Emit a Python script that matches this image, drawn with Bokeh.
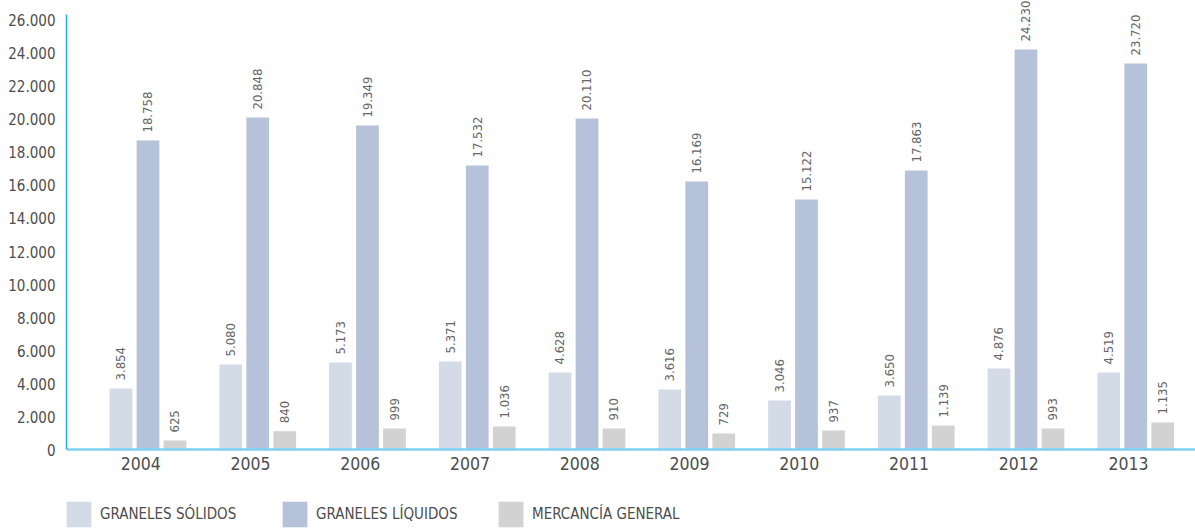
import math
from bokeh.plotting import figure
from bokeh.models import (ColumnDataSource, Range1d, FixedTicker, LabelSet,
                          Legend, LegendItem)
from bokeh.transform import dodge
from bokeh.core.properties import value
from bokeh.embed import file_html
from bokeh.resources import INLINE

# ---------------- data ----------------
years = ["2004", "2005", "2006", "2007", "2008", "2009", "2010", "2011", "2012", "2013"]

# bar heights as drawn in the reference
solidos = [3719, 5170, 5291, 5351, 4686, 3658, 2993, 3295, 4928, 4686]
liquidos = [18714, 20105, 19622, 17203, 20045, 16235, 15147, 16900, 24217, 23371]
mercancia = [574, 1137, 1300, 1421, 1300, 998, 1179, 1481, 1300, 1663]

# value labels printed above the bars
solidos_lbl = ["3.854", "5.080", "5.173", "5.371", "4.628", "3.616", "3.046", "3.650", "4.876", "4.519"]
liquidos_lbl = ["18.758", "20.848", "19.349", "17.532", "20.110", "16.169", "15.122", "17.863", "24.230", "23.720"]
mercancia_lbl = ["625", "840", "999", "1.036", "910", "729", "937", "1.139", "993", "1.135"]

series_names = ["GRANELES SÓLIDOS", "GRANELES LÍQUIDOS", "MERCANCÍA GENERAL"]

y_ticks = [0, 2000, 4000, 6000, 8000, 10000, 12000, 14000, 16000, 18000, 20000, 22000, 24000, 26000]
y_tick_labels = ["0", "2.000", "4.000", "6.000", "8.000", "10.000", "12.000", "14.000",
                 "16.000", "18.000", "20.000", "22.000", "24.000", "26.000"]

# ---------------- style ----------------
FONT = "DejaVu Sans Condensed"
C_SOL = "#d3dbe7"
C_LIQ = "#b6c2da"
C_MER = "#d2d2d2"
TXT = "#4d4d4d"

idx = list(range(len(years)))
src = ColumnDataSource(dict(
    x=[i + 0.066 for i in idx],
    sol=solidos, liq=liquidos, mer=mercancia,
    sol_lbl=solidos_lbl, liq_lbl=liquidos_lbl, mer_lbl=mercancia_lbl,
))

p = figure(width=1195, height=530, output_backend="svg", toolbar_location=None,
           x_range=Range1d(-0.6765, 9.6105), y_range=Range1d(-4868, 27180),
           min_border_left=66, min_border_right=0, min_border_top=0,
           min_border_bottom=0)

OFF = 0.246
W = 0.207
r_sol = p.vbar(x=dodge("x", -OFF, range=p.x_range), top="sol", width=W, source=src,
               fill_color=C_SOL, line_color=None)
r_liq = p.vbar(x=dodge("x", 0.0, range=p.x_range), top="liq", width=W, source=src,
               fill_color=C_LIQ, line_color=None)
r_mer = p.vbar(x=dodge("x", OFF, range=p.x_range), top="mer", width=W, source=src,
               fill_color=C_MER, line_color=None)

for off, col, lbl in [(-OFF, "sol", "sol_lbl"), (0.0, "liq", "liq_lbl"), (OFF, "mer", "mer_lbl")]:
    ls = LabelSet(x=dodge("x", off, range=p.x_range), y=col, text=lbl, source=src,
                  angle=math.pi / 2, text_align="left", text_baseline="middle",
                  y_offset=8, text_font=value(FONT), text_font_size="13px",
                  text_color="#666666")
    p.add_layout(ls)

# axes
p.xgrid.visible = False
p.ygrid.visible = False
p.outline_line_color = None

p.yaxis.ticker = FixedTicker(ticks=y_ticks)
p.yaxis.bounds = (0, 26333)
p.yaxis.major_label_overrides = {t: l for t, l in zip(y_ticks, y_tick_labels)}
p.yaxis.axis_line_color = "#1eaee6"
p.yaxis.axis_line_width = 1.5
p.yaxis.major_tick_line_color = None
p.yaxis.minor_tick_line_color = None
p.yaxis.major_tick_in = 0
p.yaxis.major_tick_out = 0
p.yaxis.major_label_standoff = 11
p.yaxis.major_label_text_font = FONT
p.yaxis.major_label_text_font_size = "15px"
p.yaxis.major_label_text_color = TXT

p.xaxis.fixed_location = 0
p.xaxis.ticker = FixedTicker(ticks=idx)
p.xaxis.major_label_overrides = {i: y for i, y in zip(idx, years)}
p.xaxis.axis_line_color = "#7fd1f3"
p.xaxis.axis_line_width = 2.5
p.xaxis.major_tick_line_color = None
p.xaxis.minor_tick_line_color = None
p.xaxis.major_tick_in = 0
p.xaxis.major_tick_out = 0
p.xaxis.major_label_standoff = 7
p.xaxis.major_label_text_font = FONT
p.xaxis.major_label_text_font_size = "17.5px"
p.xaxis.major_label_text_color = TXT

legend = Legend(items=[LegendItem(label=n, renderers=[r])
                       for n, r in zip(series_names, [r_sol, r_liq, r_mer])],
                location=(-3, 0), orientation="horizontal",
                glyph_width=31, glyph_height=32, label_height=32, label_width=179,
                label_standoff=6, padding=0, margin=0, spacing=0,
                border_line_color=None, background_fill_alpha=0,
                label_text_font=FONT, label_text_font_size="15px",
                label_text_color=TXT)
p.add_layout(legend)

open("out.html", "w").write(file_html(p, INLINE))
